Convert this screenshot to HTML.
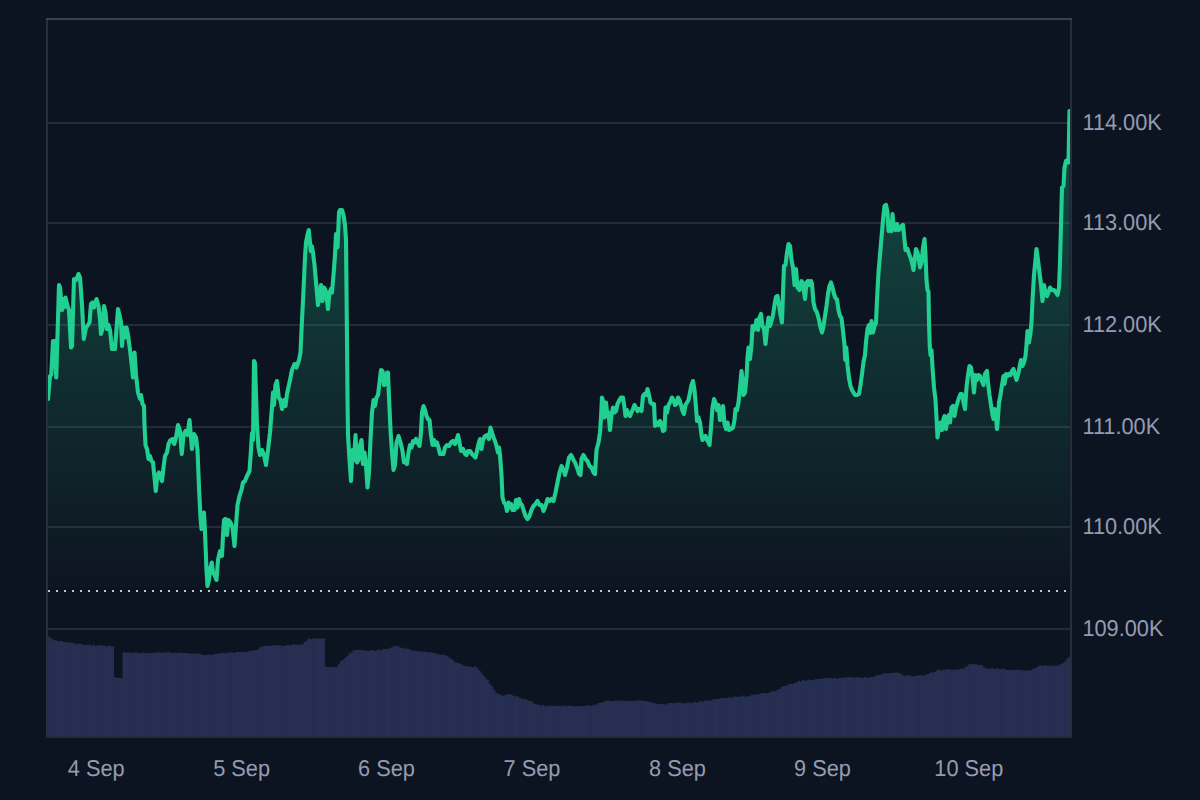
<!DOCTYPE html>
<html><head><meta charset="utf-8"><title>Chart</title>
<style>
html,body{margin:0;padding:0;background:#0d1421;width:1200px;height:800px;overflow:hidden;font-family:"Liberation Sans",sans-serif;}
</style></head><body>
<svg width="1200" height="800" viewBox="0 0 1200 800" style="position:absolute;left:0;top:0">
<defs>
<linearGradient id="g" gradientUnits="userSpaceOnUse" x1="0" y1="110" x2="0" y2="591">
<stop offset="0" stop-color="#21cf91" stop-opacity="0.31"/>
<stop offset="1" stop-color="#21cf91" stop-opacity="0"/>
</linearGradient>
</defs>
<rect width="1200" height="800" fill="#0d1421"/>
<rect x="47" y="122" width="1024" height="2" fill="#252a38"/>
<rect x="47" y="222" width="1024" height="2" fill="#252a38"/>
<rect x="47" y="324" width="1024" height="2" fill="#252a38"/>
<rect x="47" y="426" width="1024" height="2" fill="#252a38"/>
<rect x="47" y="526" width="1024" height="2" fill="#252a38"/>
<rect x="47" y="628" width="1024" height="2" fill="#252a38"/>
<path d="M48.00,399.00 L50.00,376.00 L51.25,375.00 L53.00,341.00 L54.50,341.00 L56.25,377.50 L59.00,285.00 L60.00,287.50 L62.00,310.00 L63.00,299.00 L64.00,307.50 L65.50,297.50 L67.50,306.00 L69.00,310.00 L71.00,347.50 L72.00,346.00 L74.00,279.00 L76.00,280.00 L78.50,274.00 L80.00,277.50 L82.00,305.00 L83.75,339.00 L86.00,327.50 L88.00,325.00 L89.50,322.50 L91.00,304.00 L92.50,302.50 L94.00,307.50 L96.50,299.00 L98.50,306.00 L100.00,319.00 L101.00,334.00 L102.50,329.00 L104.00,306.00 L105.50,312.50 L107.00,329.00 L108.50,325.00 L110.00,330.00 L112.00,349.00 L115.00,349.00 L118.00,309.00 L119.50,315.00 L121.00,322.50 L122.00,346.00 L123.50,327.50 L125.00,337.50 L126.50,327.50 L128.00,335.00 L130.00,350.00 L132.00,367.50 L133.00,377.50 L134.50,352.50 L136.00,375.00 L138.00,392.50 L140.00,399.00 L141.00,395.00 L142.50,404.00 L144.00,406.00 L144.50,425.00 L145.50,445.00 L147.00,449.00 L148.50,459.00 L150.00,456.00 L151.50,461.00 L153.00,462.50 L154.50,477.50 L155.75,491.00 L157.50,475.00 L159.00,472.50 L160.50,477.50 L162.00,481.00 L163.50,467.50 L165.00,456.00 L167.00,452.50 L168.50,444.00 L170.50,440.00 L172.50,439.00 L174.25,444.00 L176.00,437.50 L178.00,425.00 L180.00,431.00 L181.75,454.00 L183.50,435.00 L185.50,431.00 L187.50,435.00 L189.50,420.00 L191.00,437.50 L192.00,449.00 L194.00,434.00 L196.00,437.50 L197.50,450.00 L199.00,487.50 L200.50,517.50 L201.50,529.00 L203.00,517.50 L204.00,512.50 L205.00,532.50 L206.50,570.00 L207.50,586.00 L209.00,580.00 L210.50,567.50 L211.75,562.50 L213.00,572.50 L214.50,575.00 L216.50,580.00 L218.00,560.00 L220.00,551.00 L222.00,556.00 L223.00,535.00 L224.00,520.00 L225.50,519.00 L227.00,535.00 L228.50,520.00 L230.50,522.50 L232.50,527.50 L234.50,546.00 L236.00,525.00 L237.50,505.00 L239.50,496.00 L241.50,490.00 L243.00,482.50 L245.00,481.00 L247.00,476.00 L249.50,471.00 L251.00,450.00 L252.00,433.00 L253.00,440.00 L254.00,361.00 L255.00,363.00 L257.00,425.00 L258.50,447.50 L260.00,455.00 L262.00,450.00 L264.00,455.00 L266.00,465.00 L268.00,450.00 L270.00,432.50 L272.00,407.00 L273.00,392.50 L274.00,405.00 L275.50,385.00 L277.00,381.00 L278.75,397.50 L280.50,400.00 L282.00,409.00 L284.00,400.00 L285.50,406.00 L287.00,394.00 L290.00,380.00 L292.00,370.00 L294.50,364.00 L296.50,367.50 L299.00,360.00 L300.50,352.50 L302.00,320.00 L303.50,290.00 L305.00,257.50 L306.00,242.50 L307.50,235.00 L308.75,230.00 L310.00,242.50 L310.75,251.00 L311.75,246.00 L313.00,252.50 L314.50,265.00 L316.50,287.50 L318.00,305.00 L319.50,295.00 L321.00,285.00 L322.50,301.00 L324.00,287.50 L325.50,290.00 L326.50,295.00 L328.00,309.00 L329.50,292.50 L331.00,289.00 L332.00,292.50 L333.50,275.00 L335.00,255.00 L336.00,234.00 L337.50,247.50 L339.00,212.50 L340.00,210.00 L342.00,210.00 L343.50,215.00 L345.00,225.00 L346.00,240.00 L346.50,290.00 L347.00,340.00 L347.50,397.50 L348.00,435.00 L349.50,460.00 L351.00,481.00 L352.50,450.00 L354.00,460.00 L355.50,435.00 L357.00,462.50 L358.50,460.00 L360.00,446.00 L361.50,440.00 L363.00,464.00 L364.50,452.50 L366.00,465.00 L367.50,487.50 L369.00,472.50 L370.50,440.00 L372.00,412.50 L373.50,400.00 L375.00,406.00 L376.50,397.50 L378.00,395.00 L379.50,382.50 L381.00,370.00 L382.50,371.00 L384.00,385.00 L385.50,384.00 L387.00,372.50 L388.00,372.50 L389.00,397.50 L390.50,430.00 L392.00,452.50 L393.50,470.00 L395.00,465.00 L396.50,442.50 L398.50,436.00 L400.50,442.50 L402.50,451.00 L404.00,462.50 L405.50,461.00 L407.00,464.00 L408.50,452.50 L410.00,445.00 L411.50,447.50 L413.00,441.00 L414.50,442.50 L416.00,439.00 L417.50,442.50 L419.50,446.00 L421.00,432.50 L422.00,412.50 L423.50,406.00 L425.00,410.00 L426.50,416.00 L428.00,419.00 L429.50,420.00 L431.00,435.00 L432.50,445.00 L434.00,440.00 L435.50,445.00 L437.00,442.50 L438.50,447.50 L440.00,454.00 L441.50,454.00 L443.50,454.00 L445.00,447.50 L447.00,445.00 L449.00,446.00 L451.00,442.50 L453.00,441.00 L455.00,444.00 L456.50,440.00 L458.00,435.00 L459.50,442.50 L461.00,451.00 L463.00,449.00 L465.00,454.00 L466.50,455.00 L468.00,451.00 L470.00,451.00 L472.00,454.00 L474.00,456.00 L475.50,457.50 L477.00,451.00 L478.50,444.00 L480.00,439.00 L481.50,449.00 L483.00,440.00 L485.00,436.00 L487.00,435.00 L489.00,439.00 L490.50,427.50 L492.00,432.50 L493.50,437.50 L495.00,441.00 L496.50,446.00 L498.00,452.50 L499.00,447.50 L500.00,455.00 L501.50,475.00 L502.50,497.50 L504.00,502.50 L505.50,504.00 L507.00,511.00 L508.50,502.50 L510.00,507.50 L511.00,504.00 L512.50,510.00 L514.50,510.00 L516.00,500.00 L517.50,507.50 L519.00,499.00 L520.50,504.00 L522.00,505.00 L523.50,510.00 L525.50,516.00 L527.50,519.00 L529.50,516.00 L531.50,510.00 L533.50,506.00 L535.50,504.00 L537.50,501.00 L539.50,505.00 L541.50,505.00 L543.50,511.00 L545.50,506.00 L547.50,499.00 L549.50,501.00 L551.50,499.00 L553.50,501.00 L555.50,492.50 L557.50,482.50 L559.50,472.50 L561.50,466.00 L563.50,470.00 L565.00,475.00 L567.00,467.50 L569.00,457.50 L571.00,455.00 L573.00,459.00 L575.00,462.50 L577.00,467.50 L579.00,474.00 L580.50,475.00 L581.50,459.00 L583.50,455.00 L585.50,459.00 L587.50,461.00 L589.50,466.00 L591.50,467.50 L593.50,472.50 L595.00,474.00 L596.50,450.00 L598.50,442.50 L600.00,432.50 L601.00,417.50 L602.00,397.50 L603.50,402.50 L604.50,417.50 L606.00,402.50 L607.50,416.00 L608.50,412.50 L610.00,430.00 L611.50,415.00 L613.00,407.50 L614.50,412.50 L616.00,411.00 L617.50,404.00 L619.50,400.00 L621.00,397.50 L623.00,397.50 L624.50,407.50 L625.50,416.00 L627.00,410.00 L628.50,415.00 L630.00,416.00 L631.50,412.50 L633.00,409.00 L634.50,405.00 L636.00,407.50 L637.50,411.00 L639.00,409.00 L640.50,410.00 L641.50,411.00 L643.00,396.00 L644.50,394.00 L646.00,395.00 L647.50,389.00 L649.00,395.00 L650.50,402.50 L652.50,404.00 L654.00,404.00 L655.00,426.00 L657.00,422.50 L658.50,425.00 L660.00,421.00 L661.50,424.00 L663.00,431.00 L664.50,430.00 L665.50,407.50 L667.00,412.50 L668.50,405.00 L670.00,402.50 L672.00,397.50 L673.50,400.00 L675.00,405.00 L676.50,404.00 L678.00,397.50 L679.50,400.00 L681.00,405.00 L682.50,411.00 L684.00,414.00 L685.50,405.00 L687.00,402.50 L688.50,400.00 L690.00,392.50 L691.50,385.00 L693.00,381.00 L694.50,390.00 L696.00,407.50 L697.00,421.00 L698.50,417.50 L700.00,422.50 L701.50,435.00 L702.50,440.00 L704.00,437.50 L705.50,436.00 L707.00,440.00 L708.50,442.50 L709.50,445.00 L711.00,427.50 L712.50,407.50 L714.00,399.00 L715.50,402.50 L717.00,410.00 L718.50,405.00 L720.00,420.00 L721.50,419.00 L723.00,406.00 L724.50,424.00 L726.00,429.00 L727.50,422.50 L729.00,430.00 L731.00,429.00 L733.00,427.50 L734.50,420.00 L735.50,409.00 L737.00,410.00 L738.50,402.50 L740.00,387.50 L741.50,371.00 L742.50,380.00 L743.50,395.00 L745.00,392.50 L746.50,377.50 L747.50,357.50 L748.50,347.50 L750.00,359.00 L751.50,345.00 L752.50,326.00 L754.00,330.00 L755.50,325.00 L756.50,320.00 L758.00,330.00 L759.50,317.50 L761.00,314.00 L762.50,326.00 L764.00,329.00 L765.50,344.00 L767.00,329.00 L768.50,317.50 L770.00,326.00 L771.50,321.00 L773.00,315.00 L774.50,305.00 L776.00,297.00 L777.50,296.00 L779.00,305.00 L780.50,315.00 L782.00,322.50 L783.00,293.00 L784.00,266.00 L785.50,265.00 L787.00,252.50 L788.50,244.00 L790.00,246.00 L791.50,260.00 L793.00,267.50 L794.50,285.00 L796.00,269.00 L797.50,287.50 L799.50,290.00 L801.50,281.00 L803.00,284.00 L805.00,299.00 L806.50,282.50 L808.00,281.00 L809.50,285.00 L811.00,281.00 L812.00,284.00 L813.50,302.50 L815.00,309.00 L817.00,312.50 L819.00,320.00 L820.50,327.50 L822.00,332.50 L823.50,326.00 L825.00,316.00 L826.50,306.00 L828.00,294.00 L829.50,286.00 L831.00,282.50 L832.50,287.50 L834.00,294.00 L835.50,298.00 L837.00,299.50 L838.50,310.00 L840.00,316.00 L841.50,318.00 L843.00,331.00 L844.50,345.00 L845.25,360.00 L846.25,347.50 L847.50,365.00 L849.00,378.00 L850.50,386.00 L852.00,390.00 L853.50,392.50 L855.00,395.00 L857.00,395.00 L859.00,394.00 L860.50,385.00 L862.00,374.00 L863.50,362.00 L865.00,355.00 L866.00,342.00 L867.50,329.00 L869.00,325.00 L870.00,333.00 L871.50,321.00 L873.00,332.50 L874.50,326.00 L876.00,323.00 L877.00,300.00 L878.50,272.50 L880.00,255.00 L881.50,237.50 L883.00,220.00 L884.50,206.00 L886.00,205.00 L887.50,212.50 L888.50,231.00 L890.00,230.00 L891.50,231.00 L892.50,214.00 L894.00,229.00 L895.50,230.00 L897.00,224.00 L898.50,230.00 L900.00,229.00 L901.50,226.00 L903.00,225.00 L904.50,240.00 L905.50,250.00 L907.50,249.00 L909.00,254.00 L910.50,257.50 L912.00,262.50 L913.50,270.00 L915.00,257.50 L916.00,249.00 L917.50,252.50 L919.00,260.00 L920.00,267.50 L921.50,262.50 L923.00,247.50 L924.50,239.00 L925.50,255.00 L926.50,280.00 L927.50,290.00 L928.50,292.00 L929.00,322.00 L929.75,346.00 L930.50,355.00 L931.50,350.00 L932.50,367.50 L934.00,387.50 L935.50,400.00 L936.50,417.50 L937.50,437.50 L939.00,427.50 L940.50,422.50 L942.00,430.00 L943.50,419.00 L944.50,416.00 L946.00,429.00 L947.50,417.50 L949.00,415.00 L950.00,422.50 L951.50,407.50 L953.00,406.00 L954.50,416.00 L956.00,407.50 L957.50,402.50 L959.00,397.50 L960.50,394.00 L962.00,394.00 L963.50,402.50 L965.00,409.00 L966.50,387.50 L968.00,375.00 L969.50,366.00 L971.00,367.50 L972.50,377.50 L974.00,392.50 L975.50,375.00 L977.00,380.00 L978.50,375.00 L980.00,376.00 L981.50,380.00 L983.50,385.00 L985.00,374.00 L987.00,371.00 L988.00,382.50 L989.50,395.00 L991.00,405.00 L992.50,415.00 L993.50,419.00 L994.50,409.00 L995.50,410.00 L997.00,429.00 L998.00,417.50 L999.00,402.50 L1000.50,395.00 L1002.00,385.00 L1003.50,376.00 L1004.50,384.00 L1006.00,374.00 L1007.50,376.00 L1009.00,374.00 L1010.50,375.00 L1012.00,371.00 L1013.50,369.00 L1015.00,375.00 L1016.50,380.00 L1018.00,375.00 L1019.50,367.50 L1021.00,360.00 L1022.50,366.00 L1024.00,362.50 L1025.50,356.00 L1026.50,345.00 L1027.50,331.00 L1029.00,342.50 L1030.50,333.00 L1031.50,322.50 L1032.50,300.00 L1034.00,275.00 L1035.50,260.00 L1036.50,249.00 L1038.00,260.00 L1039.50,272.50 L1041.00,285.00 L1042.50,301.00 L1044.00,285.00 L1045.50,292.50 L1047.00,296.00 L1048.50,292.50 L1050.00,287.50 L1052.00,290.00 L1054.00,290.00 L1056.00,292.50 L1057.50,295.00 L1059.00,287.50 L1060.00,262.50 L1061.00,225.00 L1062.00,187.50 L1063.50,186.00 L1064.50,167.50 L1066.00,161.00 L1067.50,160.00 L1068.50,162.50 L1069.00,137.50 L1069.50,111.00 L1069.50,591 L48.00,591 Z" fill="url(#g)"/>
<line x1="48" x2="1070" y1="591" y2="591" stroke="#c2c6d1" stroke-width="2" stroke-dasharray="2 6"/>
<path d="M48.00,636.70 L50.13,636.70 L50.13,638.35 L52.26,638.35 L52.26,640.38 L54.39,640.38 L54.39,639.99 L56.52,639.99 L56.52,641.07 L58.65,641.07 L58.65,641.25 L60.78,641.25 L60.78,641.25 L62.91,641.25 L62.91,642.31 L65.04,642.31 L65.04,641.99 L67.17,641.99 L67.17,642.80 L69.30,642.80 L69.30,642.54 L71.43,642.54 L71.43,642.83 L73.56,642.83 L73.56,643.55 L75.69,643.55 L75.69,644.37 L77.82,644.37 L77.82,643.58 L79.95,643.58 L79.95,643.89 L82.08,643.89 L82.08,644.63 L84.21,644.63 L84.21,645.25 L86.34,645.25 L86.34,644.90 L88.47,644.90 L88.47,644.82 L90.60,644.82 L90.60,645.80 L92.73,645.80 L92.73,644.67 L94.86,644.67 L94.86,645.98 L96.99,645.98 L96.99,645.35 L99.12,645.35 L99.12,645.32 L101.25,645.32 L101.25,645.45 L103.38,645.45 L103.38,645.73 L105.51,645.73 L105.51,646.44 L107.64,646.44 L107.64,645.55 L109.77,645.55 L109.77,646.11 L111.90,646.11 L111.90,646.19 L114.03,646.19 L114.03,677.34 L116.16,677.34 L116.16,678.01 L118.29,678.01 L118.29,677.76 L120.42,677.76 L120.42,678.18 L122.55,678.18 L122.55,652.09 L124.68,652.09 L124.68,652.82 L126.81,652.82 L126.81,652.53 L128.94,652.53 L128.94,652.44 L131.07,652.44 L131.07,652.88 L133.20,652.88 L133.20,652.76 L135.33,652.76 L135.33,652.61 L137.46,652.61 L137.46,653.37 L139.59,653.37 L139.59,653.27 L141.72,653.27 L141.72,652.59 L143.85,652.59 L143.85,653.01 L145.98,653.01 L145.98,652.89 L148.11,652.89 L148.11,653.34 L150.24,653.34 L150.24,653.10 L152.37,653.10 L152.37,652.43 L154.50,652.43 L154.50,653.36 L156.63,653.36 L156.63,652.11 L158.76,652.11 L158.76,652.49 L160.89,652.49 L160.89,652.92 L163.02,652.92 L163.02,652.03 L165.15,652.03 L165.15,652.51 L167.28,652.51 L167.28,651.92 L169.41,651.92 L169.41,652.85 L171.54,652.85 L171.54,653.02 L173.67,653.02 L173.67,652.80 L175.80,652.80 L175.80,653.26 L177.93,653.26 L177.93,652.52 L180.06,652.52 L180.06,653.10 L182.19,653.10 L182.19,653.00 L184.32,653.00 L184.32,653.02 L186.45,653.02 L186.45,652.89 L188.58,652.89 L188.58,653.47 L190.71,653.47 L190.71,653.80 L192.84,653.80 L192.84,653.35 L194.97,653.35 L194.97,653.83 L197.10,653.83 L197.10,653.20 L199.23,653.20 L199.23,654.31 L201.36,654.31 L201.36,654.45 L203.49,654.45 L203.49,655.15 L205.62,655.15 L205.62,655.12 L207.75,655.12 L207.75,654.58 L209.88,654.58 L209.88,654.73 L212.01,654.73 L212.01,654.88 L214.14,654.88 L214.14,653.74 L216.27,653.74 L216.27,654.11 L218.40,654.11 L218.40,653.45 L220.53,653.45 L220.53,653.14 L222.66,653.14 L222.66,652.81 L224.79,652.81 L224.79,653.56 L226.92,653.56 L226.92,652.44 L229.05,652.44 L229.05,652.44 L231.18,652.44 L231.18,652.47 L233.31,652.47 L233.31,652.97 L235.44,652.97 L235.44,651.69 L237.57,651.69 L237.57,652.04 L239.70,652.04 L239.70,652.01 L241.83,652.01 L241.83,652.31 L243.96,652.31 L243.96,652.04 L246.09,652.04 L246.09,651.94 L248.22,651.94 L248.22,650.95 L250.35,650.95 L250.35,650.97 L252.48,650.97 L252.48,650.38 L254.61,650.38 L254.61,650.27 L256.74,650.27 L256.74,649.52 L258.87,649.52 L258.87,647.54 L261.00,647.54 L261.00,646.72 L263.13,646.72 L263.13,645.95 L265.26,645.95 L265.26,645.57 L267.39,645.57 L267.39,645.84 L269.52,645.84 L269.52,645.90 L271.65,645.90 L271.65,645.36 L273.78,645.36 L273.78,644.91 L275.91,644.91 L275.91,645.41 L278.04,645.41 L278.04,645.25 L280.17,645.25 L280.17,645.44 L282.30,645.44 L282.30,645.90 L284.43,645.90 L284.43,645.45 L286.56,645.45 L286.56,645.12 L288.69,645.12 L288.69,645.17 L290.82,645.17 L290.82,645.10 L292.95,645.10 L292.95,644.05 L295.08,644.05 L295.08,645.07 L297.21,645.07 L297.21,644.73 L299.34,644.73 L299.34,644.69 L301.47,644.69 L301.47,644.39 L303.60,644.39 L303.60,642.12 L305.73,642.12 L305.73,640.42 L307.86,640.42 L307.86,638.44 L309.99,638.44 L309.99,639.19 L312.12,639.19 L312.12,638.39 L314.25,638.39 L314.25,638.39 L316.38,638.39 L316.38,638.59 L318.51,638.59 L318.51,638.53 L320.64,638.53 L320.64,638.78 L322.77,638.78 L322.77,638.37 L324.90,638.37 L324.90,666.80 L327.03,666.80 L327.03,667.01 L329.16,667.01 L329.16,666.94 L331.29,666.94 L331.29,667.31 L333.42,667.31 L333.42,666.84 L335.55,666.84 L335.55,667.26 L337.68,667.26 L337.68,664.23 L339.81,664.23 L339.81,661.28 L341.94,661.28 L341.94,659.65 L344.07,659.65 L344.07,658.01 L346.20,658.01 L346.20,656.04 L348.33,656.04 L348.33,653.58 L350.46,653.58 L350.46,652.46 L352.59,652.46 L352.59,650.54 L354.72,650.54 L354.72,649.70 L356.85,649.70 L356.85,650.01 L358.98,650.01 L358.98,649.74 L361.11,649.74 L361.11,650.06 L363.24,650.06 L363.24,650.68 L365.37,650.68 L365.37,650.59 L367.50,650.59 L367.50,651.26 L369.63,651.26 L369.63,650.20 L371.76,650.20 L371.76,649.89 L373.89,649.89 L373.89,651.06 L376.02,651.06 L376.02,650.35 L378.15,650.35 L378.15,649.69 L380.28,649.69 L380.28,650.13 L382.41,650.13 L382.41,649.03 L384.54,649.03 L384.54,649.05 L386.67,649.05 L386.67,648.99 L388.80,648.99 L388.80,648.15 L390.93,648.15 L390.93,647.24 L393.06,647.24 L393.06,645.95 L395.19,645.95 L395.19,646.11 L397.32,646.11 L397.32,646.32 L399.45,646.32 L399.45,647.67 L401.58,647.67 L401.58,647.83 L403.71,647.83 L403.71,648.67 L405.84,648.67 L405.84,648.54 L407.97,648.54 L407.97,648.89 L410.10,648.89 L410.10,650.13 L412.23,650.13 L412.23,650.73 L414.36,650.73 L414.36,650.90 L416.49,650.90 L416.49,651.19 L418.62,651.19 L418.62,651.56 L420.75,651.56 L420.75,651.80 L422.88,651.80 L422.88,651.44 L425.01,651.44 L425.01,652.20 L427.14,652.20 L427.14,652.31 L429.27,652.31 L429.27,652.19 L431.40,652.19 L431.40,652.53 L433.53,652.53 L433.53,653.23 L435.66,653.23 L435.66,653.54 L437.79,653.54 L437.79,654.41 L439.92,654.41 L439.92,654.99 L442.05,654.99 L442.05,654.49 L444.18,654.49 L444.18,655.39 L446.31,655.39 L446.31,655.67 L448.44,655.67 L448.44,657.64 L450.57,657.64 L450.57,658.95 L452.70,658.95 L452.70,660.87 L454.83,660.87 L454.83,662.39 L456.96,662.39 L456.96,662.98 L459.09,662.98 L459.09,663.63 L461.22,663.63 L461.22,664.86 L463.35,664.86 L463.35,665.88 L465.48,665.88 L465.48,666.22 L467.61,666.22 L467.61,666.06 L469.74,666.06 L469.74,666.64 L471.87,666.64 L471.87,667.19 L474.00,667.19 L474.00,666.53 L476.13,666.53 L476.13,667.68 L478.26,667.68 L478.26,670.35 L480.39,670.35 L480.39,672.84 L482.52,672.84 L482.52,675.46 L484.65,675.46 L484.65,677.74 L486.78,677.74 L486.78,680.03 L488.91,680.03 L488.91,683.87 L491.04,683.87 L491.04,686.21 L493.17,686.21 L493.17,689.85 L495.30,689.85 L495.30,693.07 L497.43,693.07 L497.43,694.25 L499.56,694.25 L499.56,694.86 L501.69,694.86 L501.69,695.63 L503.82,695.63 L503.82,695.31 L505.95,695.31 L505.95,694.54 L508.08,694.54 L508.08,694.48 L510.21,694.48 L510.21,694.51 L512.34,694.51 L512.34,695.86 L514.47,695.86 L514.47,696.40 L516.60,696.40 L516.60,696.16 L518.73,696.16 L518.73,697.79 L520.86,697.79 L520.86,698.69 L522.99,698.69 L522.99,698.92 L525.12,698.92 L525.12,699.31 L527.25,699.31 L527.25,700.53 L529.38,700.53 L529.38,700.88 L531.51,700.88 L531.51,701.65 L533.64,701.65 L533.64,703.93 L535.77,703.93 L535.77,704.42 L537.90,704.42 L537.90,704.71 L540.03,704.71 L540.03,705.54 L542.16,705.54 L542.16,705.09 L544.29,705.09 L544.29,705.96 L546.42,705.96 L546.42,706.15 L548.55,706.15 L548.55,705.55 L550.68,705.55 L550.68,705.65 L552.81,705.65 L552.81,705.71 L554.94,705.71 L554.94,705.64 L557.07,705.64 L557.07,706.12 L559.20,706.12 L559.20,705.66 L561.33,705.66 L561.33,705.89 L563.46,705.89 L563.46,705.48 L565.59,705.48 L565.59,706.57 L567.72,706.57 L567.72,705.80 L569.85,705.80 L569.85,705.94 L571.98,705.94 L571.98,706.12 L574.11,706.12 L574.11,706.57 L576.24,706.57 L576.24,705.89 L578.37,705.89 L578.37,706.58 L580.50,706.58 L580.50,706.00 L582.63,706.00 L582.63,706.04 L584.76,706.04 L584.76,706.03 L586.89,706.03 L586.89,705.33 L589.02,705.33 L589.02,705.92 L591.15,705.92 L591.15,705.56 L593.28,705.56 L593.28,704.57 L595.41,704.57 L595.41,704.83 L597.54,704.83 L597.54,703.10 L599.67,703.10 L599.67,702.67 L601.80,702.67 L601.80,702.17 L603.93,702.17 L603.93,701.08 L606.06,701.08 L606.06,700.73 L608.19,700.73 L608.19,700.97 L610.32,700.97 L610.32,700.99 L612.45,700.99 L612.45,701.28 L614.58,701.28 L614.58,700.31 L616.71,700.31 L616.71,700.91 L618.84,700.91 L618.84,700.45 L620.97,700.45 L620.97,700.46 L623.10,700.46 L623.10,701.13 L625.23,701.13 L625.23,700.73 L627.36,700.73 L627.36,700.77 L629.49,700.77 L629.49,701.02 L631.62,701.02 L631.62,701.21 L633.75,701.21 L633.75,700.52 L635.88,700.52 L635.88,700.73 L638.01,700.73 L638.01,700.55 L640.14,700.55 L640.14,700.53 L642.27,700.53 L642.27,700.94 L644.40,700.94 L644.40,701.03 L646.53,701.03 L646.53,701.57 L648.66,701.57 L648.66,701.91 L650.79,701.91 L650.79,702.99 L652.92,702.99 L652.92,703.08 L655.05,703.08 L655.05,703.75 L657.18,703.75 L657.18,704.27 L659.31,704.27 L659.31,703.65 L661.44,703.65 L661.44,703.97 L663.57,703.97 L663.57,704.41 L665.70,704.41 L665.70,704.16 L667.83,704.16 L667.83,703.08 L669.96,703.08 L669.96,702.96 L672.09,702.96 L672.09,703.31 L674.22,703.31 L674.22,702.70 L676.35,702.70 L676.35,702.83 L678.48,702.83 L678.48,702.50 L680.61,702.50 L680.61,703.24 L682.74,703.24 L682.74,703.30 L684.87,703.30 L684.87,703.36 L687.00,703.36 L687.00,702.22 L689.13,702.22 L689.13,702.91 L691.26,702.91 L691.26,702.73 L693.39,702.73 L693.39,701.73 L695.52,701.73 L695.52,702.46 L697.65,702.46 L697.65,702.28 L699.78,702.28 L699.78,700.94 L701.91,700.94 L701.91,701.67 L704.04,701.67 L704.04,700.59 L706.17,700.59 L706.17,700.42 L708.30,700.42 L708.30,700.82 L710.43,700.82 L710.43,700.31 L712.56,700.31 L712.56,699.07 L714.69,699.07 L714.69,699.15 L716.82,699.15 L716.82,698.98 L718.95,698.98 L718.95,698.51 L721.08,698.51 L721.08,698.08 L723.21,698.08 L723.21,698.02 L725.34,698.02 L725.34,698.36 L727.47,698.36 L727.47,697.15 L729.60,697.15 L729.60,697.67 L731.73,697.67 L731.73,697.29 L733.86,697.29 L733.86,696.47 L735.99,696.47 L735.99,696.68 L738.12,696.68 L738.12,696.86 L740.25,696.86 L740.25,696.48 L742.38,696.48 L742.38,695.62 L744.51,695.62 L744.51,696.68 L746.64,696.68 L746.64,696.18 L748.77,696.18 L748.77,696.21 L750.90,696.21 L750.90,694.77 L753.03,694.77 L753.03,694.77 L755.16,694.77 L755.16,694.11 L757.29,694.11 L757.29,694.72 L759.42,694.72 L759.42,693.58 L761.55,693.58 L761.55,692.96 L763.68,692.96 L763.68,692.94 L765.81,692.94 L765.81,693.20 L767.94,693.20 L767.94,692.65 L770.07,692.65 L770.07,691.44 L772.20,691.44 L772.20,690.86 L774.33,690.86 L774.33,691.39 L776.46,691.39 L776.46,689.84 L778.59,689.84 L778.59,688.95 L780.72,688.95 L780.72,687.03 L782.85,687.03 L782.85,685.92 L784.98,685.92 L784.98,685.92 L787.11,685.92 L787.11,684.84 L789.24,684.84 L789.24,683.63 L791.37,683.63 L791.37,684.14 L793.50,684.14 L793.50,683.00 L795.63,683.00 L795.63,682.52 L797.76,682.52 L797.76,680.81 L799.89,680.81 L799.89,681.40 L802.02,681.40 L802.02,680.08 L804.15,680.08 L804.15,680.99 L806.28,680.99 L806.28,680.20 L808.41,680.20 L808.41,679.83 L810.54,679.83 L810.54,679.91 L812.67,679.91 L812.67,680.22 L814.80,680.22 L814.80,679.09 L816.93,679.09 L816.93,678.68 L819.06,678.68 L819.06,679.03 L821.19,679.03 L821.19,678.54 L823.32,678.54 L823.32,678.27 L825.45,678.27 L825.45,678.25 L827.58,678.25 L827.58,678.00 L829.71,678.00 L829.71,678.12 L831.84,678.12 L831.84,678.18 L833.97,678.18 L833.97,678.08 L836.10,678.08 L836.10,678.63 L838.23,678.63 L838.23,677.88 L840.36,677.88 L840.36,678.08 L842.49,678.08 L842.49,677.54 L844.62,677.54 L844.62,677.69 L846.75,677.69 L846.75,677.13 L848.88,677.13 L848.88,677.37 L851.01,677.37 L851.01,676.95 L853.14,676.95 L853.14,677.86 L855.27,677.86 L855.27,677.57 L857.40,677.57 L857.40,677.07 L859.53,677.07 L859.53,677.46 L861.66,677.46 L861.66,678.11 L863.79,678.11 L863.79,676.95 L865.92,676.95 L865.92,677.95 L868.05,677.95 L868.05,677.41 L870.18,677.41 L870.18,677.12 L872.31,677.12 L872.31,676.96 L874.44,676.96 L874.44,675.70 L876.57,675.70 L876.57,675.22 L878.70,675.22 L878.70,674.83 L880.83,674.83 L880.83,674.61 L882.96,674.61 L882.96,673.07 L885.09,673.07 L885.09,673.47 L887.22,673.47 L887.22,673.29 L889.35,673.29 L889.35,673.19 L891.48,673.19 L891.48,672.87 L893.61,672.87 L893.61,672.79 L895.74,672.79 L895.74,672.38 L897.87,672.38 L897.87,673.06 L900.00,673.06 L900.00,673.83 L902.13,673.83 L902.13,675.62 L904.26,675.62 L904.26,675.65 L906.39,675.65 L906.39,675.47 L908.52,675.47 L908.52,675.30 L910.65,675.30 L910.65,676.31 L912.78,676.31 L912.78,676.30 L914.91,676.30 L914.91,675.96 L917.04,675.96 L917.04,675.37 L919.17,675.37 L919.17,675.26 L921.30,675.26 L921.30,675.28 L923.43,675.28 L923.43,675.46 L925.56,675.46 L925.56,674.31 L927.69,674.31 L927.69,673.77 L929.82,673.77 L929.82,672.58 L931.95,672.58 L931.95,672.62 L934.08,672.62 L934.08,671.70 L936.21,671.70 L936.21,670.16 L938.34,670.16 L938.34,669.60 L940.47,669.60 L940.47,670.57 L942.60,670.57 L942.60,669.61 L944.73,669.61 L944.73,669.63 L946.86,669.63 L946.86,669.09 L948.99,669.09 L948.99,669.58 L951.12,669.58 L951.12,669.67 L953.25,669.67 L953.25,669.67 L955.38,669.67 L955.38,669.20 L957.51,669.20 L957.51,669.59 L959.64,669.59 L959.64,668.84 L961.77,668.84 L961.77,668.95 L963.90,668.95 L963.90,667.28 L966.03,667.28 L966.03,666.30 L968.16,666.30 L968.16,664.38 L970.29,664.38 L970.29,663.89 L972.42,663.89 L972.42,664.37 L974.55,664.37 L974.55,664.35 L976.68,664.35 L976.68,664.93 L978.81,664.93 L978.81,664.94 L980.94,664.94 L980.94,665.33 L983.07,665.33 L983.07,667.18 L985.20,667.18 L985.20,668.39 L987.33,668.39 L987.33,668.76 L989.46,668.76 L989.46,668.21 L991.59,668.21 L991.59,668.27 L993.72,668.27 L993.72,669.33 L995.85,669.33 L995.85,668.30 L997.98,668.30 L997.98,669.25 L1000.11,669.25 L1000.11,669.28 L1002.24,669.28 L1002.24,668.58 L1004.37,668.58 L1004.37,669.83 L1006.50,669.83 L1006.50,670.05 L1008.63,670.05 L1008.63,669.82 L1010.76,669.82 L1010.76,670.12 L1012.89,670.12 L1012.89,670.37 L1015.02,670.37 L1015.02,669.50 L1017.15,669.50 L1017.15,670.03 L1019.28,670.03 L1019.28,670.01 L1021.41,670.01 L1021.41,670.47 L1023.54,670.47 L1023.54,670.43 L1025.67,670.43 L1025.67,670.46 L1027.80,670.46 L1027.80,670.12 L1029.93,670.12 L1029.93,670.15 L1032.06,670.15 L1032.06,669.01 L1034.19,669.01 L1034.19,668.17 L1036.32,668.17 L1036.32,666.67 L1038.45,666.67 L1038.45,665.54 L1040.58,665.54 L1040.58,665.45 L1042.71,665.45 L1042.71,665.71 L1044.84,665.71 L1044.84,665.30 L1046.97,665.30 L1046.97,666.27 L1049.10,666.27 L1049.10,665.83 L1051.23,665.83 L1051.23,665.87 L1053.36,665.87 L1053.36,665.82 L1055.49,665.82 L1055.49,665.84 L1057.62,665.84 L1057.62,665.52 L1059.75,665.52 L1059.75,664.07 L1061.88,664.07 L1061.88,663.27 L1064.01,663.27 L1064.01,661.27 L1066.14,661.27 L1066.14,658.80 L1068.27,658.80 L1068.27,656.91 L1070.00,656.91 L1070,737 L48,737 Z" fill="#272f53"/>
<pattern id="st" patternUnits="userSpaceOnUse" x="48" y="0" width="2.13" height="10"><rect x="0" y="0" width="0.7" height="10" fill="#1c2342" fill-opacity="0.3"/></pattern>
<path d="M48.00,636.70 L50.13,636.70 L50.13,638.35 L52.26,638.35 L52.26,640.38 L54.39,640.38 L54.39,639.99 L56.52,639.99 L56.52,641.07 L58.65,641.07 L58.65,641.25 L60.78,641.25 L60.78,641.25 L62.91,641.25 L62.91,642.31 L65.04,642.31 L65.04,641.99 L67.17,641.99 L67.17,642.80 L69.30,642.80 L69.30,642.54 L71.43,642.54 L71.43,642.83 L73.56,642.83 L73.56,643.55 L75.69,643.55 L75.69,644.37 L77.82,644.37 L77.82,643.58 L79.95,643.58 L79.95,643.89 L82.08,643.89 L82.08,644.63 L84.21,644.63 L84.21,645.25 L86.34,645.25 L86.34,644.90 L88.47,644.90 L88.47,644.82 L90.60,644.82 L90.60,645.80 L92.73,645.80 L92.73,644.67 L94.86,644.67 L94.86,645.98 L96.99,645.98 L96.99,645.35 L99.12,645.35 L99.12,645.32 L101.25,645.32 L101.25,645.45 L103.38,645.45 L103.38,645.73 L105.51,645.73 L105.51,646.44 L107.64,646.44 L107.64,645.55 L109.77,645.55 L109.77,646.11 L111.90,646.11 L111.90,646.19 L114.03,646.19 L114.03,677.34 L116.16,677.34 L116.16,678.01 L118.29,678.01 L118.29,677.76 L120.42,677.76 L120.42,678.18 L122.55,678.18 L122.55,652.09 L124.68,652.09 L124.68,652.82 L126.81,652.82 L126.81,652.53 L128.94,652.53 L128.94,652.44 L131.07,652.44 L131.07,652.88 L133.20,652.88 L133.20,652.76 L135.33,652.76 L135.33,652.61 L137.46,652.61 L137.46,653.37 L139.59,653.37 L139.59,653.27 L141.72,653.27 L141.72,652.59 L143.85,652.59 L143.85,653.01 L145.98,653.01 L145.98,652.89 L148.11,652.89 L148.11,653.34 L150.24,653.34 L150.24,653.10 L152.37,653.10 L152.37,652.43 L154.50,652.43 L154.50,653.36 L156.63,653.36 L156.63,652.11 L158.76,652.11 L158.76,652.49 L160.89,652.49 L160.89,652.92 L163.02,652.92 L163.02,652.03 L165.15,652.03 L165.15,652.51 L167.28,652.51 L167.28,651.92 L169.41,651.92 L169.41,652.85 L171.54,652.85 L171.54,653.02 L173.67,653.02 L173.67,652.80 L175.80,652.80 L175.80,653.26 L177.93,653.26 L177.93,652.52 L180.06,652.52 L180.06,653.10 L182.19,653.10 L182.19,653.00 L184.32,653.00 L184.32,653.02 L186.45,653.02 L186.45,652.89 L188.58,652.89 L188.58,653.47 L190.71,653.47 L190.71,653.80 L192.84,653.80 L192.84,653.35 L194.97,653.35 L194.97,653.83 L197.10,653.83 L197.10,653.20 L199.23,653.20 L199.23,654.31 L201.36,654.31 L201.36,654.45 L203.49,654.45 L203.49,655.15 L205.62,655.15 L205.62,655.12 L207.75,655.12 L207.75,654.58 L209.88,654.58 L209.88,654.73 L212.01,654.73 L212.01,654.88 L214.14,654.88 L214.14,653.74 L216.27,653.74 L216.27,654.11 L218.40,654.11 L218.40,653.45 L220.53,653.45 L220.53,653.14 L222.66,653.14 L222.66,652.81 L224.79,652.81 L224.79,653.56 L226.92,653.56 L226.92,652.44 L229.05,652.44 L229.05,652.44 L231.18,652.44 L231.18,652.47 L233.31,652.47 L233.31,652.97 L235.44,652.97 L235.44,651.69 L237.57,651.69 L237.57,652.04 L239.70,652.04 L239.70,652.01 L241.83,652.01 L241.83,652.31 L243.96,652.31 L243.96,652.04 L246.09,652.04 L246.09,651.94 L248.22,651.94 L248.22,650.95 L250.35,650.95 L250.35,650.97 L252.48,650.97 L252.48,650.38 L254.61,650.38 L254.61,650.27 L256.74,650.27 L256.74,649.52 L258.87,649.52 L258.87,647.54 L261.00,647.54 L261.00,646.72 L263.13,646.72 L263.13,645.95 L265.26,645.95 L265.26,645.57 L267.39,645.57 L267.39,645.84 L269.52,645.84 L269.52,645.90 L271.65,645.90 L271.65,645.36 L273.78,645.36 L273.78,644.91 L275.91,644.91 L275.91,645.41 L278.04,645.41 L278.04,645.25 L280.17,645.25 L280.17,645.44 L282.30,645.44 L282.30,645.90 L284.43,645.90 L284.43,645.45 L286.56,645.45 L286.56,645.12 L288.69,645.12 L288.69,645.17 L290.82,645.17 L290.82,645.10 L292.95,645.10 L292.95,644.05 L295.08,644.05 L295.08,645.07 L297.21,645.07 L297.21,644.73 L299.34,644.73 L299.34,644.69 L301.47,644.69 L301.47,644.39 L303.60,644.39 L303.60,642.12 L305.73,642.12 L305.73,640.42 L307.86,640.42 L307.86,638.44 L309.99,638.44 L309.99,639.19 L312.12,639.19 L312.12,638.39 L314.25,638.39 L314.25,638.39 L316.38,638.39 L316.38,638.59 L318.51,638.59 L318.51,638.53 L320.64,638.53 L320.64,638.78 L322.77,638.78 L322.77,638.37 L324.90,638.37 L324.90,666.80 L327.03,666.80 L327.03,667.01 L329.16,667.01 L329.16,666.94 L331.29,666.94 L331.29,667.31 L333.42,667.31 L333.42,666.84 L335.55,666.84 L335.55,667.26 L337.68,667.26 L337.68,664.23 L339.81,664.23 L339.81,661.28 L341.94,661.28 L341.94,659.65 L344.07,659.65 L344.07,658.01 L346.20,658.01 L346.20,656.04 L348.33,656.04 L348.33,653.58 L350.46,653.58 L350.46,652.46 L352.59,652.46 L352.59,650.54 L354.72,650.54 L354.72,649.70 L356.85,649.70 L356.85,650.01 L358.98,650.01 L358.98,649.74 L361.11,649.74 L361.11,650.06 L363.24,650.06 L363.24,650.68 L365.37,650.68 L365.37,650.59 L367.50,650.59 L367.50,651.26 L369.63,651.26 L369.63,650.20 L371.76,650.20 L371.76,649.89 L373.89,649.89 L373.89,651.06 L376.02,651.06 L376.02,650.35 L378.15,650.35 L378.15,649.69 L380.28,649.69 L380.28,650.13 L382.41,650.13 L382.41,649.03 L384.54,649.03 L384.54,649.05 L386.67,649.05 L386.67,648.99 L388.80,648.99 L388.80,648.15 L390.93,648.15 L390.93,647.24 L393.06,647.24 L393.06,645.95 L395.19,645.95 L395.19,646.11 L397.32,646.11 L397.32,646.32 L399.45,646.32 L399.45,647.67 L401.58,647.67 L401.58,647.83 L403.71,647.83 L403.71,648.67 L405.84,648.67 L405.84,648.54 L407.97,648.54 L407.97,648.89 L410.10,648.89 L410.10,650.13 L412.23,650.13 L412.23,650.73 L414.36,650.73 L414.36,650.90 L416.49,650.90 L416.49,651.19 L418.62,651.19 L418.62,651.56 L420.75,651.56 L420.75,651.80 L422.88,651.80 L422.88,651.44 L425.01,651.44 L425.01,652.20 L427.14,652.20 L427.14,652.31 L429.27,652.31 L429.27,652.19 L431.40,652.19 L431.40,652.53 L433.53,652.53 L433.53,653.23 L435.66,653.23 L435.66,653.54 L437.79,653.54 L437.79,654.41 L439.92,654.41 L439.92,654.99 L442.05,654.99 L442.05,654.49 L444.18,654.49 L444.18,655.39 L446.31,655.39 L446.31,655.67 L448.44,655.67 L448.44,657.64 L450.57,657.64 L450.57,658.95 L452.70,658.95 L452.70,660.87 L454.83,660.87 L454.83,662.39 L456.96,662.39 L456.96,662.98 L459.09,662.98 L459.09,663.63 L461.22,663.63 L461.22,664.86 L463.35,664.86 L463.35,665.88 L465.48,665.88 L465.48,666.22 L467.61,666.22 L467.61,666.06 L469.74,666.06 L469.74,666.64 L471.87,666.64 L471.87,667.19 L474.00,667.19 L474.00,666.53 L476.13,666.53 L476.13,667.68 L478.26,667.68 L478.26,670.35 L480.39,670.35 L480.39,672.84 L482.52,672.84 L482.52,675.46 L484.65,675.46 L484.65,677.74 L486.78,677.74 L486.78,680.03 L488.91,680.03 L488.91,683.87 L491.04,683.87 L491.04,686.21 L493.17,686.21 L493.17,689.85 L495.30,689.85 L495.30,693.07 L497.43,693.07 L497.43,694.25 L499.56,694.25 L499.56,694.86 L501.69,694.86 L501.69,695.63 L503.82,695.63 L503.82,695.31 L505.95,695.31 L505.95,694.54 L508.08,694.54 L508.08,694.48 L510.21,694.48 L510.21,694.51 L512.34,694.51 L512.34,695.86 L514.47,695.86 L514.47,696.40 L516.60,696.40 L516.60,696.16 L518.73,696.16 L518.73,697.79 L520.86,697.79 L520.86,698.69 L522.99,698.69 L522.99,698.92 L525.12,698.92 L525.12,699.31 L527.25,699.31 L527.25,700.53 L529.38,700.53 L529.38,700.88 L531.51,700.88 L531.51,701.65 L533.64,701.65 L533.64,703.93 L535.77,703.93 L535.77,704.42 L537.90,704.42 L537.90,704.71 L540.03,704.71 L540.03,705.54 L542.16,705.54 L542.16,705.09 L544.29,705.09 L544.29,705.96 L546.42,705.96 L546.42,706.15 L548.55,706.15 L548.55,705.55 L550.68,705.55 L550.68,705.65 L552.81,705.65 L552.81,705.71 L554.94,705.71 L554.94,705.64 L557.07,705.64 L557.07,706.12 L559.20,706.12 L559.20,705.66 L561.33,705.66 L561.33,705.89 L563.46,705.89 L563.46,705.48 L565.59,705.48 L565.59,706.57 L567.72,706.57 L567.72,705.80 L569.85,705.80 L569.85,705.94 L571.98,705.94 L571.98,706.12 L574.11,706.12 L574.11,706.57 L576.24,706.57 L576.24,705.89 L578.37,705.89 L578.37,706.58 L580.50,706.58 L580.50,706.00 L582.63,706.00 L582.63,706.04 L584.76,706.04 L584.76,706.03 L586.89,706.03 L586.89,705.33 L589.02,705.33 L589.02,705.92 L591.15,705.92 L591.15,705.56 L593.28,705.56 L593.28,704.57 L595.41,704.57 L595.41,704.83 L597.54,704.83 L597.54,703.10 L599.67,703.10 L599.67,702.67 L601.80,702.67 L601.80,702.17 L603.93,702.17 L603.93,701.08 L606.06,701.08 L606.06,700.73 L608.19,700.73 L608.19,700.97 L610.32,700.97 L610.32,700.99 L612.45,700.99 L612.45,701.28 L614.58,701.28 L614.58,700.31 L616.71,700.31 L616.71,700.91 L618.84,700.91 L618.84,700.45 L620.97,700.45 L620.97,700.46 L623.10,700.46 L623.10,701.13 L625.23,701.13 L625.23,700.73 L627.36,700.73 L627.36,700.77 L629.49,700.77 L629.49,701.02 L631.62,701.02 L631.62,701.21 L633.75,701.21 L633.75,700.52 L635.88,700.52 L635.88,700.73 L638.01,700.73 L638.01,700.55 L640.14,700.55 L640.14,700.53 L642.27,700.53 L642.27,700.94 L644.40,700.94 L644.40,701.03 L646.53,701.03 L646.53,701.57 L648.66,701.57 L648.66,701.91 L650.79,701.91 L650.79,702.99 L652.92,702.99 L652.92,703.08 L655.05,703.08 L655.05,703.75 L657.18,703.75 L657.18,704.27 L659.31,704.27 L659.31,703.65 L661.44,703.65 L661.44,703.97 L663.57,703.97 L663.57,704.41 L665.70,704.41 L665.70,704.16 L667.83,704.16 L667.83,703.08 L669.96,703.08 L669.96,702.96 L672.09,702.96 L672.09,703.31 L674.22,703.31 L674.22,702.70 L676.35,702.70 L676.35,702.83 L678.48,702.83 L678.48,702.50 L680.61,702.50 L680.61,703.24 L682.74,703.24 L682.74,703.30 L684.87,703.30 L684.87,703.36 L687.00,703.36 L687.00,702.22 L689.13,702.22 L689.13,702.91 L691.26,702.91 L691.26,702.73 L693.39,702.73 L693.39,701.73 L695.52,701.73 L695.52,702.46 L697.65,702.46 L697.65,702.28 L699.78,702.28 L699.78,700.94 L701.91,700.94 L701.91,701.67 L704.04,701.67 L704.04,700.59 L706.17,700.59 L706.17,700.42 L708.30,700.42 L708.30,700.82 L710.43,700.82 L710.43,700.31 L712.56,700.31 L712.56,699.07 L714.69,699.07 L714.69,699.15 L716.82,699.15 L716.82,698.98 L718.95,698.98 L718.95,698.51 L721.08,698.51 L721.08,698.08 L723.21,698.08 L723.21,698.02 L725.34,698.02 L725.34,698.36 L727.47,698.36 L727.47,697.15 L729.60,697.15 L729.60,697.67 L731.73,697.67 L731.73,697.29 L733.86,697.29 L733.86,696.47 L735.99,696.47 L735.99,696.68 L738.12,696.68 L738.12,696.86 L740.25,696.86 L740.25,696.48 L742.38,696.48 L742.38,695.62 L744.51,695.62 L744.51,696.68 L746.64,696.68 L746.64,696.18 L748.77,696.18 L748.77,696.21 L750.90,696.21 L750.90,694.77 L753.03,694.77 L753.03,694.77 L755.16,694.77 L755.16,694.11 L757.29,694.11 L757.29,694.72 L759.42,694.72 L759.42,693.58 L761.55,693.58 L761.55,692.96 L763.68,692.96 L763.68,692.94 L765.81,692.94 L765.81,693.20 L767.94,693.20 L767.94,692.65 L770.07,692.65 L770.07,691.44 L772.20,691.44 L772.20,690.86 L774.33,690.86 L774.33,691.39 L776.46,691.39 L776.46,689.84 L778.59,689.84 L778.59,688.95 L780.72,688.95 L780.72,687.03 L782.85,687.03 L782.85,685.92 L784.98,685.92 L784.98,685.92 L787.11,685.92 L787.11,684.84 L789.24,684.84 L789.24,683.63 L791.37,683.63 L791.37,684.14 L793.50,684.14 L793.50,683.00 L795.63,683.00 L795.63,682.52 L797.76,682.52 L797.76,680.81 L799.89,680.81 L799.89,681.40 L802.02,681.40 L802.02,680.08 L804.15,680.08 L804.15,680.99 L806.28,680.99 L806.28,680.20 L808.41,680.20 L808.41,679.83 L810.54,679.83 L810.54,679.91 L812.67,679.91 L812.67,680.22 L814.80,680.22 L814.80,679.09 L816.93,679.09 L816.93,678.68 L819.06,678.68 L819.06,679.03 L821.19,679.03 L821.19,678.54 L823.32,678.54 L823.32,678.27 L825.45,678.27 L825.45,678.25 L827.58,678.25 L827.58,678.00 L829.71,678.00 L829.71,678.12 L831.84,678.12 L831.84,678.18 L833.97,678.18 L833.97,678.08 L836.10,678.08 L836.10,678.63 L838.23,678.63 L838.23,677.88 L840.36,677.88 L840.36,678.08 L842.49,678.08 L842.49,677.54 L844.62,677.54 L844.62,677.69 L846.75,677.69 L846.75,677.13 L848.88,677.13 L848.88,677.37 L851.01,677.37 L851.01,676.95 L853.14,676.95 L853.14,677.86 L855.27,677.86 L855.27,677.57 L857.40,677.57 L857.40,677.07 L859.53,677.07 L859.53,677.46 L861.66,677.46 L861.66,678.11 L863.79,678.11 L863.79,676.95 L865.92,676.95 L865.92,677.95 L868.05,677.95 L868.05,677.41 L870.18,677.41 L870.18,677.12 L872.31,677.12 L872.31,676.96 L874.44,676.96 L874.44,675.70 L876.57,675.70 L876.57,675.22 L878.70,675.22 L878.70,674.83 L880.83,674.83 L880.83,674.61 L882.96,674.61 L882.96,673.07 L885.09,673.07 L885.09,673.47 L887.22,673.47 L887.22,673.29 L889.35,673.29 L889.35,673.19 L891.48,673.19 L891.48,672.87 L893.61,672.87 L893.61,672.79 L895.74,672.79 L895.74,672.38 L897.87,672.38 L897.87,673.06 L900.00,673.06 L900.00,673.83 L902.13,673.83 L902.13,675.62 L904.26,675.62 L904.26,675.65 L906.39,675.65 L906.39,675.47 L908.52,675.47 L908.52,675.30 L910.65,675.30 L910.65,676.31 L912.78,676.31 L912.78,676.30 L914.91,676.30 L914.91,675.96 L917.04,675.96 L917.04,675.37 L919.17,675.37 L919.17,675.26 L921.30,675.26 L921.30,675.28 L923.43,675.28 L923.43,675.46 L925.56,675.46 L925.56,674.31 L927.69,674.31 L927.69,673.77 L929.82,673.77 L929.82,672.58 L931.95,672.58 L931.95,672.62 L934.08,672.62 L934.08,671.70 L936.21,671.70 L936.21,670.16 L938.34,670.16 L938.34,669.60 L940.47,669.60 L940.47,670.57 L942.60,670.57 L942.60,669.61 L944.73,669.61 L944.73,669.63 L946.86,669.63 L946.86,669.09 L948.99,669.09 L948.99,669.58 L951.12,669.58 L951.12,669.67 L953.25,669.67 L953.25,669.67 L955.38,669.67 L955.38,669.20 L957.51,669.20 L957.51,669.59 L959.64,669.59 L959.64,668.84 L961.77,668.84 L961.77,668.95 L963.90,668.95 L963.90,667.28 L966.03,667.28 L966.03,666.30 L968.16,666.30 L968.16,664.38 L970.29,664.38 L970.29,663.89 L972.42,663.89 L972.42,664.37 L974.55,664.37 L974.55,664.35 L976.68,664.35 L976.68,664.93 L978.81,664.93 L978.81,664.94 L980.94,664.94 L980.94,665.33 L983.07,665.33 L983.07,667.18 L985.20,667.18 L985.20,668.39 L987.33,668.39 L987.33,668.76 L989.46,668.76 L989.46,668.21 L991.59,668.21 L991.59,668.27 L993.72,668.27 L993.72,669.33 L995.85,669.33 L995.85,668.30 L997.98,668.30 L997.98,669.25 L1000.11,669.25 L1000.11,669.28 L1002.24,669.28 L1002.24,668.58 L1004.37,668.58 L1004.37,669.83 L1006.50,669.83 L1006.50,670.05 L1008.63,670.05 L1008.63,669.82 L1010.76,669.82 L1010.76,670.12 L1012.89,670.12 L1012.89,670.37 L1015.02,670.37 L1015.02,669.50 L1017.15,669.50 L1017.15,670.03 L1019.28,670.03 L1019.28,670.01 L1021.41,670.01 L1021.41,670.47 L1023.54,670.47 L1023.54,670.43 L1025.67,670.43 L1025.67,670.46 L1027.80,670.46 L1027.80,670.12 L1029.93,670.12 L1029.93,670.15 L1032.06,670.15 L1032.06,669.01 L1034.19,669.01 L1034.19,668.17 L1036.32,668.17 L1036.32,666.67 L1038.45,666.67 L1038.45,665.54 L1040.58,665.54 L1040.58,665.45 L1042.71,665.45 L1042.71,665.71 L1044.84,665.71 L1044.84,665.30 L1046.97,665.30 L1046.97,666.27 L1049.10,666.27 L1049.10,665.83 L1051.23,665.83 L1051.23,665.87 L1053.36,665.87 L1053.36,665.82 L1055.49,665.82 L1055.49,665.84 L1057.62,665.84 L1057.62,665.52 L1059.75,665.52 L1059.75,664.07 L1061.88,664.07 L1061.88,663.27 L1064.01,663.27 L1064.01,661.27 L1066.14,661.27 L1066.14,658.80 L1068.27,658.80 L1068.27,656.91 L1070.00,656.91 L1070,737 L48,737 Z" fill="url(#st)"/>
<clipPath id="c"><rect x="48" y="20" width="1022" height="716"/></clipPath>
<path clip-path="url(#c)" d="M48.00,399.00 L50.00,376.00 L51.25,375.00 L53.00,341.00 L54.50,341.00 L56.25,377.50 L59.00,285.00 L60.00,287.50 L62.00,310.00 L63.00,299.00 L64.00,307.50 L65.50,297.50 L67.50,306.00 L69.00,310.00 L71.00,347.50 L72.00,346.00 L74.00,279.00 L76.00,280.00 L78.50,274.00 L80.00,277.50 L82.00,305.00 L83.75,339.00 L86.00,327.50 L88.00,325.00 L89.50,322.50 L91.00,304.00 L92.50,302.50 L94.00,307.50 L96.50,299.00 L98.50,306.00 L100.00,319.00 L101.00,334.00 L102.50,329.00 L104.00,306.00 L105.50,312.50 L107.00,329.00 L108.50,325.00 L110.00,330.00 L112.00,349.00 L115.00,349.00 L118.00,309.00 L119.50,315.00 L121.00,322.50 L122.00,346.00 L123.50,327.50 L125.00,337.50 L126.50,327.50 L128.00,335.00 L130.00,350.00 L132.00,367.50 L133.00,377.50 L134.50,352.50 L136.00,375.00 L138.00,392.50 L140.00,399.00 L141.00,395.00 L142.50,404.00 L144.00,406.00 L144.50,425.00 L145.50,445.00 L147.00,449.00 L148.50,459.00 L150.00,456.00 L151.50,461.00 L153.00,462.50 L154.50,477.50 L155.75,491.00 L157.50,475.00 L159.00,472.50 L160.50,477.50 L162.00,481.00 L163.50,467.50 L165.00,456.00 L167.00,452.50 L168.50,444.00 L170.50,440.00 L172.50,439.00 L174.25,444.00 L176.00,437.50 L178.00,425.00 L180.00,431.00 L181.75,454.00 L183.50,435.00 L185.50,431.00 L187.50,435.00 L189.50,420.00 L191.00,437.50 L192.00,449.00 L194.00,434.00 L196.00,437.50 L197.50,450.00 L199.00,487.50 L200.50,517.50 L201.50,529.00 L203.00,517.50 L204.00,512.50 L205.00,532.50 L206.50,570.00 L207.50,586.00 L209.00,580.00 L210.50,567.50 L211.75,562.50 L213.00,572.50 L214.50,575.00 L216.50,580.00 L218.00,560.00 L220.00,551.00 L222.00,556.00 L223.00,535.00 L224.00,520.00 L225.50,519.00 L227.00,535.00 L228.50,520.00 L230.50,522.50 L232.50,527.50 L234.50,546.00 L236.00,525.00 L237.50,505.00 L239.50,496.00 L241.50,490.00 L243.00,482.50 L245.00,481.00 L247.00,476.00 L249.50,471.00 L251.00,450.00 L252.00,433.00 L253.00,440.00 L254.00,361.00 L255.00,363.00 L257.00,425.00 L258.50,447.50 L260.00,455.00 L262.00,450.00 L264.00,455.00 L266.00,465.00 L268.00,450.00 L270.00,432.50 L272.00,407.00 L273.00,392.50 L274.00,405.00 L275.50,385.00 L277.00,381.00 L278.75,397.50 L280.50,400.00 L282.00,409.00 L284.00,400.00 L285.50,406.00 L287.00,394.00 L290.00,380.00 L292.00,370.00 L294.50,364.00 L296.50,367.50 L299.00,360.00 L300.50,352.50 L302.00,320.00 L303.50,290.00 L305.00,257.50 L306.00,242.50 L307.50,235.00 L308.75,230.00 L310.00,242.50 L310.75,251.00 L311.75,246.00 L313.00,252.50 L314.50,265.00 L316.50,287.50 L318.00,305.00 L319.50,295.00 L321.00,285.00 L322.50,301.00 L324.00,287.50 L325.50,290.00 L326.50,295.00 L328.00,309.00 L329.50,292.50 L331.00,289.00 L332.00,292.50 L333.50,275.00 L335.00,255.00 L336.00,234.00 L337.50,247.50 L339.00,212.50 L340.00,210.00 L342.00,210.00 L343.50,215.00 L345.00,225.00 L346.00,240.00 L346.50,290.00 L347.00,340.00 L347.50,397.50 L348.00,435.00 L349.50,460.00 L351.00,481.00 L352.50,450.00 L354.00,460.00 L355.50,435.00 L357.00,462.50 L358.50,460.00 L360.00,446.00 L361.50,440.00 L363.00,464.00 L364.50,452.50 L366.00,465.00 L367.50,487.50 L369.00,472.50 L370.50,440.00 L372.00,412.50 L373.50,400.00 L375.00,406.00 L376.50,397.50 L378.00,395.00 L379.50,382.50 L381.00,370.00 L382.50,371.00 L384.00,385.00 L385.50,384.00 L387.00,372.50 L388.00,372.50 L389.00,397.50 L390.50,430.00 L392.00,452.50 L393.50,470.00 L395.00,465.00 L396.50,442.50 L398.50,436.00 L400.50,442.50 L402.50,451.00 L404.00,462.50 L405.50,461.00 L407.00,464.00 L408.50,452.50 L410.00,445.00 L411.50,447.50 L413.00,441.00 L414.50,442.50 L416.00,439.00 L417.50,442.50 L419.50,446.00 L421.00,432.50 L422.00,412.50 L423.50,406.00 L425.00,410.00 L426.50,416.00 L428.00,419.00 L429.50,420.00 L431.00,435.00 L432.50,445.00 L434.00,440.00 L435.50,445.00 L437.00,442.50 L438.50,447.50 L440.00,454.00 L441.50,454.00 L443.50,454.00 L445.00,447.50 L447.00,445.00 L449.00,446.00 L451.00,442.50 L453.00,441.00 L455.00,444.00 L456.50,440.00 L458.00,435.00 L459.50,442.50 L461.00,451.00 L463.00,449.00 L465.00,454.00 L466.50,455.00 L468.00,451.00 L470.00,451.00 L472.00,454.00 L474.00,456.00 L475.50,457.50 L477.00,451.00 L478.50,444.00 L480.00,439.00 L481.50,449.00 L483.00,440.00 L485.00,436.00 L487.00,435.00 L489.00,439.00 L490.50,427.50 L492.00,432.50 L493.50,437.50 L495.00,441.00 L496.50,446.00 L498.00,452.50 L499.00,447.50 L500.00,455.00 L501.50,475.00 L502.50,497.50 L504.00,502.50 L505.50,504.00 L507.00,511.00 L508.50,502.50 L510.00,507.50 L511.00,504.00 L512.50,510.00 L514.50,510.00 L516.00,500.00 L517.50,507.50 L519.00,499.00 L520.50,504.00 L522.00,505.00 L523.50,510.00 L525.50,516.00 L527.50,519.00 L529.50,516.00 L531.50,510.00 L533.50,506.00 L535.50,504.00 L537.50,501.00 L539.50,505.00 L541.50,505.00 L543.50,511.00 L545.50,506.00 L547.50,499.00 L549.50,501.00 L551.50,499.00 L553.50,501.00 L555.50,492.50 L557.50,482.50 L559.50,472.50 L561.50,466.00 L563.50,470.00 L565.00,475.00 L567.00,467.50 L569.00,457.50 L571.00,455.00 L573.00,459.00 L575.00,462.50 L577.00,467.50 L579.00,474.00 L580.50,475.00 L581.50,459.00 L583.50,455.00 L585.50,459.00 L587.50,461.00 L589.50,466.00 L591.50,467.50 L593.50,472.50 L595.00,474.00 L596.50,450.00 L598.50,442.50 L600.00,432.50 L601.00,417.50 L602.00,397.50 L603.50,402.50 L604.50,417.50 L606.00,402.50 L607.50,416.00 L608.50,412.50 L610.00,430.00 L611.50,415.00 L613.00,407.50 L614.50,412.50 L616.00,411.00 L617.50,404.00 L619.50,400.00 L621.00,397.50 L623.00,397.50 L624.50,407.50 L625.50,416.00 L627.00,410.00 L628.50,415.00 L630.00,416.00 L631.50,412.50 L633.00,409.00 L634.50,405.00 L636.00,407.50 L637.50,411.00 L639.00,409.00 L640.50,410.00 L641.50,411.00 L643.00,396.00 L644.50,394.00 L646.00,395.00 L647.50,389.00 L649.00,395.00 L650.50,402.50 L652.50,404.00 L654.00,404.00 L655.00,426.00 L657.00,422.50 L658.50,425.00 L660.00,421.00 L661.50,424.00 L663.00,431.00 L664.50,430.00 L665.50,407.50 L667.00,412.50 L668.50,405.00 L670.00,402.50 L672.00,397.50 L673.50,400.00 L675.00,405.00 L676.50,404.00 L678.00,397.50 L679.50,400.00 L681.00,405.00 L682.50,411.00 L684.00,414.00 L685.50,405.00 L687.00,402.50 L688.50,400.00 L690.00,392.50 L691.50,385.00 L693.00,381.00 L694.50,390.00 L696.00,407.50 L697.00,421.00 L698.50,417.50 L700.00,422.50 L701.50,435.00 L702.50,440.00 L704.00,437.50 L705.50,436.00 L707.00,440.00 L708.50,442.50 L709.50,445.00 L711.00,427.50 L712.50,407.50 L714.00,399.00 L715.50,402.50 L717.00,410.00 L718.50,405.00 L720.00,420.00 L721.50,419.00 L723.00,406.00 L724.50,424.00 L726.00,429.00 L727.50,422.50 L729.00,430.00 L731.00,429.00 L733.00,427.50 L734.50,420.00 L735.50,409.00 L737.00,410.00 L738.50,402.50 L740.00,387.50 L741.50,371.00 L742.50,380.00 L743.50,395.00 L745.00,392.50 L746.50,377.50 L747.50,357.50 L748.50,347.50 L750.00,359.00 L751.50,345.00 L752.50,326.00 L754.00,330.00 L755.50,325.00 L756.50,320.00 L758.00,330.00 L759.50,317.50 L761.00,314.00 L762.50,326.00 L764.00,329.00 L765.50,344.00 L767.00,329.00 L768.50,317.50 L770.00,326.00 L771.50,321.00 L773.00,315.00 L774.50,305.00 L776.00,297.00 L777.50,296.00 L779.00,305.00 L780.50,315.00 L782.00,322.50 L783.00,293.00 L784.00,266.00 L785.50,265.00 L787.00,252.50 L788.50,244.00 L790.00,246.00 L791.50,260.00 L793.00,267.50 L794.50,285.00 L796.00,269.00 L797.50,287.50 L799.50,290.00 L801.50,281.00 L803.00,284.00 L805.00,299.00 L806.50,282.50 L808.00,281.00 L809.50,285.00 L811.00,281.00 L812.00,284.00 L813.50,302.50 L815.00,309.00 L817.00,312.50 L819.00,320.00 L820.50,327.50 L822.00,332.50 L823.50,326.00 L825.00,316.00 L826.50,306.00 L828.00,294.00 L829.50,286.00 L831.00,282.50 L832.50,287.50 L834.00,294.00 L835.50,298.00 L837.00,299.50 L838.50,310.00 L840.00,316.00 L841.50,318.00 L843.00,331.00 L844.50,345.00 L845.25,360.00 L846.25,347.50 L847.50,365.00 L849.00,378.00 L850.50,386.00 L852.00,390.00 L853.50,392.50 L855.00,395.00 L857.00,395.00 L859.00,394.00 L860.50,385.00 L862.00,374.00 L863.50,362.00 L865.00,355.00 L866.00,342.00 L867.50,329.00 L869.00,325.00 L870.00,333.00 L871.50,321.00 L873.00,332.50 L874.50,326.00 L876.00,323.00 L877.00,300.00 L878.50,272.50 L880.00,255.00 L881.50,237.50 L883.00,220.00 L884.50,206.00 L886.00,205.00 L887.50,212.50 L888.50,231.00 L890.00,230.00 L891.50,231.00 L892.50,214.00 L894.00,229.00 L895.50,230.00 L897.00,224.00 L898.50,230.00 L900.00,229.00 L901.50,226.00 L903.00,225.00 L904.50,240.00 L905.50,250.00 L907.50,249.00 L909.00,254.00 L910.50,257.50 L912.00,262.50 L913.50,270.00 L915.00,257.50 L916.00,249.00 L917.50,252.50 L919.00,260.00 L920.00,267.50 L921.50,262.50 L923.00,247.50 L924.50,239.00 L925.50,255.00 L926.50,280.00 L927.50,290.00 L928.50,292.00 L929.00,322.00 L929.75,346.00 L930.50,355.00 L931.50,350.00 L932.50,367.50 L934.00,387.50 L935.50,400.00 L936.50,417.50 L937.50,437.50 L939.00,427.50 L940.50,422.50 L942.00,430.00 L943.50,419.00 L944.50,416.00 L946.00,429.00 L947.50,417.50 L949.00,415.00 L950.00,422.50 L951.50,407.50 L953.00,406.00 L954.50,416.00 L956.00,407.50 L957.50,402.50 L959.00,397.50 L960.50,394.00 L962.00,394.00 L963.50,402.50 L965.00,409.00 L966.50,387.50 L968.00,375.00 L969.50,366.00 L971.00,367.50 L972.50,377.50 L974.00,392.50 L975.50,375.00 L977.00,380.00 L978.50,375.00 L980.00,376.00 L981.50,380.00 L983.50,385.00 L985.00,374.00 L987.00,371.00 L988.00,382.50 L989.50,395.00 L991.00,405.00 L992.50,415.00 L993.50,419.00 L994.50,409.00 L995.50,410.00 L997.00,429.00 L998.00,417.50 L999.00,402.50 L1000.50,395.00 L1002.00,385.00 L1003.50,376.00 L1004.50,384.00 L1006.00,374.00 L1007.50,376.00 L1009.00,374.00 L1010.50,375.00 L1012.00,371.00 L1013.50,369.00 L1015.00,375.00 L1016.50,380.00 L1018.00,375.00 L1019.50,367.50 L1021.00,360.00 L1022.50,366.00 L1024.00,362.50 L1025.50,356.00 L1026.50,345.00 L1027.50,331.00 L1029.00,342.50 L1030.50,333.00 L1031.50,322.50 L1032.50,300.00 L1034.00,275.00 L1035.50,260.00 L1036.50,249.00 L1038.00,260.00 L1039.50,272.50 L1041.00,285.00 L1042.50,301.00 L1044.00,285.00 L1045.50,292.50 L1047.00,296.00 L1048.50,292.50 L1050.00,287.50 L1052.00,290.00 L1054.00,290.00 L1056.00,292.50 L1057.50,295.00 L1059.00,287.50 L1060.00,262.50 L1061.00,225.00 L1062.00,187.50 L1063.50,186.00 L1064.50,167.50 L1066.00,161.00 L1067.50,160.00 L1068.50,162.50 L1069.00,137.50 L1069.50,111.00" fill="none" stroke="#21cf91" stroke-width="4.1" stroke-linejoin="round" stroke-linecap="round"/>
<rect x="46" y="18" width="2" height="720" fill="#282e40"/>
<rect x="1070" y="18" width="2" height="720" fill="#272d3e"/>
<rect x="46" y="736" width="1026" height="2" fill="#252b3b"/>
<rect x="46" y="18" width="1026" height="2" fill="#3a4050"/>
<text transform="translate(1082.4,129.8) scale(0.95,1)" fill="#959bb0" font-size="22.9" font-family="Liberation Sans, sans-serif" text-rendering="geometricPrecision">114.00K</text>
<text transform="translate(1082.4,229.8) scale(0.95,1)" fill="#959bb0" font-size="22.9" font-family="Liberation Sans, sans-serif" text-rendering="geometricPrecision">113.00K</text>
<text transform="translate(1082.4,331.8) scale(0.95,1)" fill="#959bb0" font-size="22.9" font-family="Liberation Sans, sans-serif" text-rendering="geometricPrecision">112.00K</text>
<text transform="translate(1082.4,433.8) scale(0.95,1)" fill="#959bb0" font-size="22.9" font-family="Liberation Sans, sans-serif" text-rendering="geometricPrecision">111.00K</text>
<text transform="translate(1082.4,533.8) scale(0.95,1)" fill="#959bb0" font-size="22.9" font-family="Liberation Sans, sans-serif" text-rendering="geometricPrecision">110.00K</text>
<text transform="translate(1082.4,635.8) scale(0.95,1)" fill="#959bb0" font-size="22.9" font-family="Liberation Sans, sans-serif" text-rendering="geometricPrecision">109.00K</text>
<text transform="translate(96.2,775.9) scale(0.95,1)" text-anchor="middle" fill="#959bb0" font-size="22.9" font-family="Liberation Sans, sans-serif" text-rendering="geometricPrecision">4 Sep</text>
<text transform="translate(241.6,775.9) scale(0.95,1)" text-anchor="middle" fill="#959bb0" font-size="22.9" font-family="Liberation Sans, sans-serif" text-rendering="geometricPrecision">5 Sep</text>
<text transform="translate(386.5,775.9) scale(0.95,1)" text-anchor="middle" fill="#959bb0" font-size="22.9" font-family="Liberation Sans, sans-serif" text-rendering="geometricPrecision">6 Sep</text>
<text transform="translate(532.0,775.9) scale(0.95,1)" text-anchor="middle" fill="#959bb0" font-size="22.9" font-family="Liberation Sans, sans-serif" text-rendering="geometricPrecision">7 Sep</text>
<text transform="translate(677.5,775.9) scale(0.95,1)" text-anchor="middle" fill="#959bb0" font-size="22.9" font-family="Liberation Sans, sans-serif" text-rendering="geometricPrecision">8 Sep</text>
<text transform="translate(822.4,775.9) scale(0.95,1)" text-anchor="middle" fill="#959bb0" font-size="22.9" font-family="Liberation Sans, sans-serif" text-rendering="geometricPrecision">9 Sep</text>
<text transform="translate(968.8,775.9) scale(0.95,1)" text-anchor="middle" fill="#959bb0" font-size="22.9" font-family="Liberation Sans, sans-serif" text-rendering="geometricPrecision">10 Sep</text>
</svg>
</body></html>
